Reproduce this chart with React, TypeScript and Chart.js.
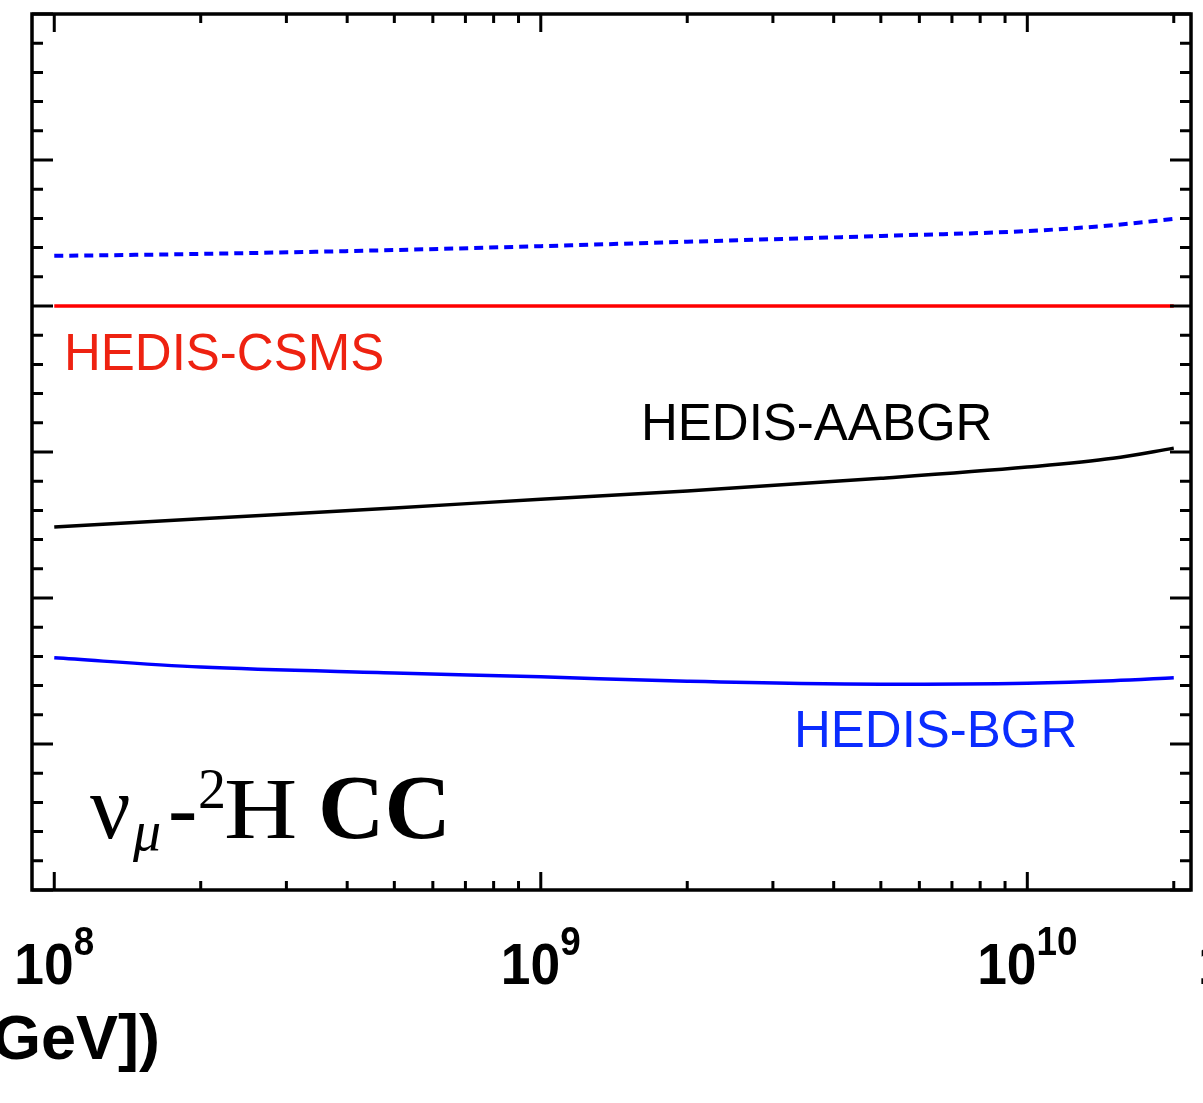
import React, { useEffect, useRef } from "react";
import { Chart, registerables } from "chart.js";

Chart.register(...registerables);

// ---- data ----
const energies = [1e8, 2e8, 5e8, 1e9, 2e9, 5e9, 1e10, 1.5e10, 2e10];
const hedisCsms = [1.0, 1.0, 1.0, 1.0, 1.0, 1.0, 1.0, 1.0, 1.0];
const hedisAabgr = [0.9546, 0.9563, 0.9585, 0.9603, 0.962, 0.9646, 0.9669, 0.9687, 0.9708];
const hedisBgr = [0.9277, 0.9258, 0.9246, 0.9238, 0.9229, 0.9223, 0.9225, 0.923, 0.9236];
const dashedBlue = [1.0103, 1.0107, 1.0115, 1.0123, 1.0132, 1.0144, 1.0154, 1.0166, 1.0179];

const xMajorTicks = [1e8, 1e9, 1e10];
const xMajorExponents = ["8", "9", "10"];
const xMinorTicks = [
  2e8, 3e8, 4e8, 5e8, 6e8, 7e8, 8e8, 9e8,
  2e9, 3e9, 4e9, 5e9, 6e9, 7e9, 8e9, 9e9,
  2e10,
];
const yMajorTicks = [0.88, 0.91, 0.94, 0.97, 1.0, 1.03, 1.06];
const yMinorTicks = [
  0.886, 0.892, 0.898, 0.904,
  0.916, 0.922, 0.928, 0.934,
  0.946, 0.952, 0.958, 0.964,
  0.976, 0.982, 0.988, 0.994,
  1.006, 1.012, 1.018, 1.024,
  1.036, 1.042, 1.048, 1.054,
];
const xMin = 9e7;
const xMax = 2.17e10;
const yMin = 0.88;
const yMax = 1.06;

const SANS = '"Liberation Sans", Arial, Helvetica, sans-serif';
const SERIF = '"Liberation Serif", "Times New Roman", serif';

function scaledText(ctx: CanvasRenderingContext2D, text: string, x: number, y: number, sx: number) {
  ctx.save();
  ctx.translate(x, y);
  ctx.scale(sx, 1);
  ctx.fillText(text, 0, 0);
  ctx.restore();
}

const framePlugin = {
  id: "idlFrame",
  afterDraw(chart: any) {
    const ctx = chart.ctx as CanvasRenderingContext2D;
    const { left, right, top, bottom } = chart.chartArea;
    const xs = chart.scales.x;
    const ys = chart.scales.y;
    ctx.save();
    ctx.strokeStyle = "#000";
    ctx.lineWidth = 3.5;
    ctx.lineCap = "butt";
    ctx.lineJoin = "miter";
    // frame
    ctx.strokeRect(left, top, right - left, bottom - top);
    ctx.lineWidth = 3;
    // x ticks (bottom and top, inward)
    const xTick = (v: number, len: number) => {
      const px = xs.getPixelForValue(v);
      ctx.beginPath();
      ctx.moveTo(px, bottom);
      ctx.lineTo(px, bottom - len);
      ctx.moveTo(px, top);
      ctx.lineTo(px, top + len);
      ctx.stroke();
    };
    xMajorTicks.forEach((v) => xTick(v, 18));
    xMinorTicks.forEach((v) => xTick(v, 9));
    // y ticks (left and right, inward)
    const yTick = (v: number, len: number) => {
      const py = ys.getPixelForValue(v);
      ctx.beginPath();
      ctx.moveTo(left, py);
      ctx.lineTo(left + len, py);
      ctx.moveTo(right, py);
      ctx.lineTo(right - len, py);
      ctx.stroke();
    };
    yMajorTicks.forEach((v) => yTick(v, 21));
    yMinorTicks.forEach((v) => yTick(v, 11));

    // x tick labels 10^n
    ctx.fillStyle = "#000";
    ctx.textBaseline = "alphabetic";
    ctx.textAlign = "left";
    const sx = 0.92;
    const baseFont = `bold 58px ${SANS}`;
    const expFont = `bold 40px ${SANS}`;
    xMajorTicks.forEach((v, i) => {
      const px = xs.getPixelForValue(v);
      ctx.font = baseFont;
      const wb = ctx.measureText("10").width * sx;
      ctx.font = expFont;
      const we = ctx.measureText(xMajorExponents[i]).width * sx;
      const x0 = px - (wb + we) / 2;
      ctx.font = baseFont;
      scaledText(ctx, "10", x0, 984, sx);
      ctx.font = expFont;
      scaledText(ctx, xMajorExponents[i], x0 + wb, 955, sx);
    });
    // neighbouring panel's label, cut at the edge
    ctx.font = baseFont;
    scaledText(ctx, "10", 1198, 984, sx);

    // axis title (only its end is inside the picture)
    ctx.font = `bold 63px ${SANS}`;
    ctx.textAlign = "right";
    ctx.fillText("GeV])", 160, 1059);

    // curve labels
    ctx.textAlign = "left";
    ctx.font = `51px ${SANS}`;
    ctx.fillStyle = "#ee2211";
    ctx.fillText("HEDIS-CSMS", 64, 370);
    ctx.fillStyle = "#000";
    ctx.fillText("HEDIS-AABGR", 641, 440);
    ctx.fillStyle = "#0a2cff";
    ctx.fillText("HEDIS-BGR", 794, 747);

    // process label: nu_mu - 2H CC
    ctx.fillStyle = "#000";
    const base = 838;
    ctx.font = `90px ${SERIF}`;
    ctx.fillText("ν", 90, base);
    ctx.font = `italic 56px ${SERIF}`;
    ctx.fillText("μ", 133, base + 12);
    ctx.font = `88px ${SERIF}`;
    ctx.fillText("-", 168, base);
    ctx.font = `56px ${SERIF}`;
    ctx.fillText("2", 198, base - 30);
    ctx.font = `86px ${SERIF}`;
    scaledText(ctx, "H", 224, base, 1.18);
    ctx.font = `bold 92px ${SERIF}`;
    ctx.fillText("CC", 318, base);
    ctx.restore();
  },
};

export default function App() {
  const canvasRef = useRef<HTMLCanvasElement | null>(null);

  useEffect(() => {
    const canvas = canvasRef.current;
    if (!canvas) return;
    const toPoints = (ys: number[]) => energies.map((e, i) => ({ x: e, y: ys[i] }));
    const common = {
      borderWidth: 3.5,
      pointRadius: 0,
      cubicInterpolationMode: "monotone" as const,
      fill: false,
    };
    const chart = new Chart(canvas, {
      type: "line",
      data: {
        datasets: [
          { label: "HEDIS-CSMS", data: toPoints(hedisCsms), borderColor: "#ff0000", ...common },
          { label: "HEDIS-AABGR", data: toPoints(hedisAabgr), borderColor: "#000000", ...common },
          { label: "HEDIS-BGR", data: toPoints(hedisBgr), borderColor: "#0000ff", ...common },
          {
            label: "dashed",
            data: toPoints(dashedBlue),
            borderColor: "#0000ff",
            borderDash: [9, 6],
            ...common,
            borderWidth: 4,
          },
        ],
      },
      options: {
        animation: false,
        responsive: false,
        maintainAspectRatio: false,
        layout: { padding: { left: 32, right: 12, top: 14, bottom: 213 } },
        plugins: { legend: { display: false }, tooltip: { enabled: false } },
        scales: {
          x: { type: "logarithmic", min: xMin, max: xMax, display: false },
          y: { type: "linear", min: yMin, max: yMax, display: false },
        },
      },
      plugins: [framePlugin],
    });
    return () => chart.destroy();
  }, []);

  return (
    <div style={{ position: "fixed", left: 0, top: 0, width: 1203, height: 1103, background: "#fff" }}>
      <canvas ref={canvasRef} width={1203} height={1103} style={{ display: "block" }} />
    </div>
  );
}
